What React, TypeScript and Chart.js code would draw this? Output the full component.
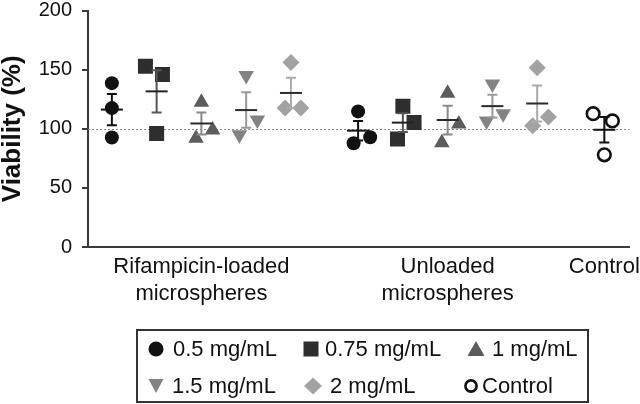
import React, { useEffect, useRef } from 'react';
import { Chart, registerables } from 'chart.js';

Chart.register(...registerables);

const FONT = '"Liberation Sans", Arial, Helvetica, sans-serif';

// Categories on the x axis (label lines) and their positions on the linear x scale
const groupLabels: string[][] = [['Rifampicin-loaded', 'microspheres'], ['Unloaded', 'microspheres'], ['Control']];
const groupCenters = [3, 8.5, 12];

// Series (legend entries) and their slot offsets inside a group
const seriesLabels = ['0.5 mg/mL', '0.75 mg/mL', '1 mg/mL', '1.5 mg/mL', '2 mg/mL', 'Control'];
const seriesSlot = [-2, -1, 0, 1, 2, 0];

// Y axis
const yMin = 0;
const yMax = 200;
const yStep = 50;
const referenceValue = 100;

// Viability (%) replicates - Rifampicin-loaded microspheres
const rif05 = [138.6, 117.5, 92.7];
const rif075 = [153, 146, 96];
const rif1 = [122.5, 92, 99];
const rif15 = [145, 95, 107.5];
const rif2 = [156, 117.5, 117.5];
// Viability (%) replicates - Unloaded microspheres
const unl05 = [114.7, 87.8, 92.8];
const unl075 = [119, 91.4, 105.3];
const unl1 = [130, 88.3, 104];
const unl15 = [138, 106.7, 112.8];
const unl2 = [151.7, 102.5, 110];
// Viability (%) replicates - Control
const ctrl = [112.8, 106.7, 78];

// Horizontal scatter (jitter) of each replicate, in slot units
const rif05J = [0, 0, 0];
const rif075J = [-0.25, 0.13, 0];
const rif1J = [0, -0.12, 0.25];
const rif15J = [0, -0.15, 0.25];
const rif2J = [0, -0.13, 0.22];
const unl05J = [0, -0.1, 0.27];
const unl075J = [0, -0.12, 0.25];
const unl1J = [0, -0.13, 0.25];
const unl15J = [0, -0.13, 0.24];
const unl2J = [0, -0.1, 0.25];
const ctrlJ = [-0.25, 0.18, 0];

// per series: values per group (null = not present)
const seriesValues: (number[] | null)[][] = [
  [rif05, unl05, null],
  [rif075, unl075, null],
  [rif1, unl1, null],
  [rif15, unl15, null],
  [rif2, unl2, null],
  [null, null, ctrl],
];
const seriesJitter: (number[] | null)[][] = [
  [rif05J, unl05J, null],
  [rif075J, unl075J, null],
  [rif1J, unl1J, null],
  [rif15J, unl15J, null],
  [rif2J, unl2J, null],
  [null, null, ctrlJ],
];

// styles
const fillColors = ['#111111', '#2e2e2e', '#5c5c5c', '#838383', '#a2a2a2', '#ffffff'];
const whiskerColors = ['#111111', '#555555', '#8a8a8a', '#999999', '#aaaaaa', '#111111'];
const meanColors = ['#111111', '#222222', '#2a2a2a', '#2a2a2a', '#2a2a2a', '#111111'];
const pointStyles = ['circle', 'rect', 'triangle', 'triangle', 'rectRot', 'circle'];
const pointRotations = [0, 0, 0, 180, 0, 0];
const pointRadii = [7, 10.6, 9, 9, 8.5, 6.3];

function meanSem(v: number[]) {
  const n = v.length;
  const m = v.reduce((a, b) => a + b, 0) / n;
  const sd = Math.sqrt(v.reduce((a, b) => a + (b - m) * (b - m), 0) / (n - 1));
  return { m, sem: sd / Math.sqrt(n) };
}

const refLinePlugin = {
  id: 'refLine',
  beforeDatasetsDraw(chart: any) {
    const { ctx, chartArea, scales } = chart;
    const y = scales.y.getPixelForValue(referenceValue);
    ctx.save();
    ctx.strokeStyle = '#8a8a8a';
    ctx.lineWidth = 1;
    ctx.setLineDash([2, 2]);
    ctx.beginPath();
    ctx.moveTo(chartArea.left, Math.round(y) + 0.5);
    ctx.lineTo(chartArea.right, Math.round(y) + 0.5);
    ctx.stroke();
    ctx.restore();
  },
};

const errorBarPlugin = {
  id: 'errorBars',
  afterDatasetsDraw(chart: any) {
    const { ctx, scales } = chart;
    ctx.save();
    ctx.lineWidth = 2;
    seriesValues.forEach((groups, s) => {
      groups.forEach((vals, g) => {
        if (!vals) return;
        const { m, sem } = meanSem(vals);
        const x = scales.x.getPixelForValue(groupCenters[g] + seriesSlot[s]);
        const yTop = scales.y.getPixelForValue(m + sem);
        const yBot = scales.y.getPixelForValue(m - sem);
        const yM = scales.y.getPixelForValue(m);
        ctx.strokeStyle = whiskerColors[s];
        ctx.beginPath();
        ctx.moveTo(x, yTop);
        ctx.lineTo(x, yBot);
        ctx.moveTo(x - 5, yTop);
        ctx.lineTo(x + 5, yTop);
        ctx.moveTo(x - 5, yBot);
        ctx.lineTo(x + 5, yBot);
        ctx.stroke();
        ctx.strokeStyle = meanColors[s];
        ctx.beginPath();
        ctx.moveTo(x - 11, yM);
        ctx.lineTo(x + 11, yM);
        ctx.stroke();
      });
    });
    ctx.restore();
  },
};

function Marker({ s }: { s: number }) {
  const c = fillColors[s];
  let shape: any;
  if (s === 0) shape = <circle cx={9} cy={9} r={7.5} fill={c} />;
  else if (s === 1) shape = <rect x={1.5} y={1.5} width={15} height={15} fill={c} />;
  else if (s === 2) shape = <polygon points="9,1 17.5,16 0.5,16" fill={c} />;
  else if (s === 3) shape = <polygon points="1.5,2 16.5,2 9,16" fill={c} />;
  else if (s === 4) shape = <polygon points="9,0.5 18,9 9,17.5 0,9" fill={c} />;
  else shape = <circle cx={9} cy={9} r={5.6} fill="#fff" stroke="#111" strokeWidth={2.6} />;
  return (
    <svg width={18} height={18} style={{ display: 'block' }}>
      {shape}
    </svg>
  );
}

// legend item placement (marker center x, text left, row center y) in page pixels
const legendCells = [
  { mx: 156, tx: 173, cy: 349 },
  { mx: 311, tx: 325, cy: 349 },
  { mx: 476, tx: 492, cy: 349 },
  { mx: 156, tx: 172, cy: 386 },
  { mx: 313, tx: 330, cy: 386 },
  { mx: 471, tx: 482, cy: 386 },
];

export default function App() {
  const ref = useRef<HTMLCanvasElement | null>(null);

  useEffect(() => {
    if (!ref.current) return;
    const datasets = seriesLabels.map((label, s) => {
      const data: { x: number; y: number }[] = [];
      seriesValues[s].forEach((vals, g) => {
        if (!vals) return;
        const jit = seriesJitter[s][g] || [];
        vals.forEach((v, i) => data.push({ x: groupCenters[g] + seriesSlot[s] + (jit[i] || 0), y: v }));
      });
      return {
        label,
        data,
        pointStyle: pointStyles[s] as any,
        rotation: pointRotations[s],
        pointRadius: pointRadii[s],
        backgroundColor: fillColors[s],
        borderColor: s === 5 ? '#111111' : fillColors[s],
        borderWidth: s === 5 ? 2.6 : 0,
        showLine: false,
      };
    });

    const chart = new Chart(ref.current, {
      type: 'scatter',
      data: { datasets },
      options: {
        animation: false,
        responsive: true,
        maintainAspectRatio: false,
        layout: { padding: { top: 7, right: 8, bottom: 0, left: 0 } },
        plugins: { legend: { display: false }, tooltip: { enabled: false } },
        scales: {
          x: {
            type: 'linear',
            min: 0.467,
            max: 12.56,
            grid: { display: false, drawTicks: false, tickLength: 0 },
            border: { display: true, color: '#3a3a3a', width: 2 },
            afterBuildTicks: (scale: any) => {
              scale.ticks = groupCenters.map((v) => ({ value: v }));
            },
            afterFit: (scale: any) => {
              scale.height = 83;
              scale.paddingLeft = 0;
              scale.paddingRight = 0;
            },
            ticks: {
              autoSkip: false,
              maxRotation: 0,
              minRotation: 0,
              padding: 6,
              color: '#111',
              font: { family: FONT, size: 22, lineHeight: '27px' as any },
              callback: (value: any) => {
                const idx = groupCenters.indexOf(Number(value));
                return idx >= 0 ? groupLabels[idx] : '';
              },
            },
          },
          y: {
            min: yMin,
            max: yMax,
            grid: { display: true, drawOnChartArea: false, drawTicks: true, tickLength: 6, color: '#3a3a3a', lineWidth: 2 },
            border: { display: true, color: '#3a3a3a', width: 2 },
            afterFit: (scale: any) => {
              scale.width = 88;
              scale.paddingTop = 0;
              scale.paddingBottom = 0;
            },
            ticks: {
              stepSize: yStep,
              padding: 10,
              color: '#111',
              font: { family: FONT, size: 20 },
            },
            title: {
              display: true,
              text: 'Viability (%)',
              color: '#111',
              padding: 0,
              font: { family: FONT, size: 26, weight: 'bold', lineHeight: '25px' as any },
            },
          },
        },
      },
      plugins: [refLinePlugin, errorBarPlugin],
    });
    return () => chart.destroy();
  }, []);

  return (
    <div style={{ position: 'absolute', left: 0, top: 0, width: 640, height: 404, background: '#fff', fontFamily: FONT }}>
      <div style={{ position: 'absolute', left: 0, top: 0, width: 640, height: 330 }}>
        <canvas ref={ref} />
      </div>
      <div
        style={{
          position: 'absolute',
          left: 136,
          top: 329,
          width: 453,
          height: 74,
          border: '2px solid #333',
          boxSizing: 'border-box',
        }}
      />
      {legendCells.map((c, s) => (
        <React.Fragment key={s}>
          <div style={{ position: 'absolute', left: c.mx - 9, top: c.cy - 9 }}>
            <Marker s={s} />
          </div>
          <div
            style={{
              position: 'absolute',
              left: c.tx,
              top: c.cy - 13,
              height: 26,
              lineHeight: '26px',
              fontSize: 22,
              color: '#111',
              whiteSpace: 'nowrap',
            }}
          >
            {seriesLabels[s]}
          </div>
        </React.Fragment>
      ))}
    </div>
  );
}
